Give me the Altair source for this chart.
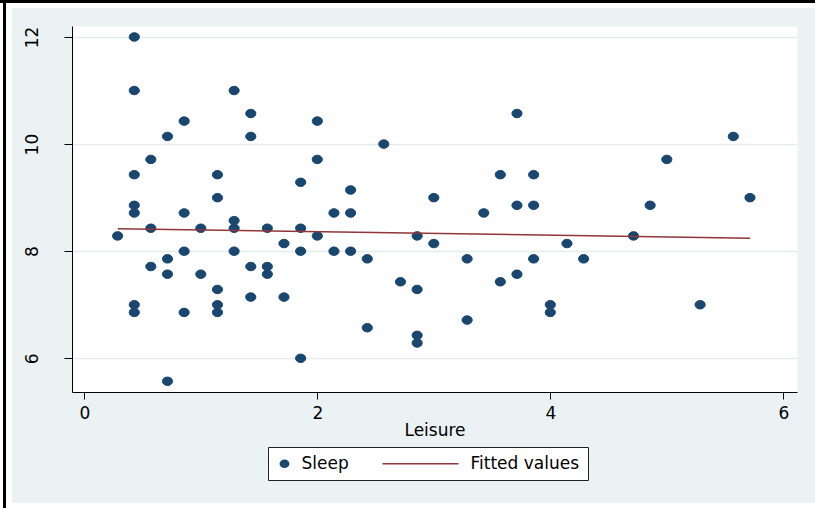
import altair as alt
import pandas as pd

# ---- data (Leisure vs Sleep) ----
leisure = [
    0.286, 0.429, 0.429, 0.429, 0.429, 0.429, 0.571, 0.571, 0.714, 0.857,
    0.857, 0.857, 1.000, 1.143, 1.143, 1.286, 1.286, 1.286, 1.286, 1.429,
    1.429, 1.571, 1.714, 1.857, 1.857, 1.857, 2.000, 2.000, 2.000, 2.143,
    2.143, 2.286, 2.286, 2.286, 2.429, 2.571,
    0.571, 0.714, 0.714, 1.000, 1.143, 1.143, 1.143, 0.429, 0.429, 0.857,
    0.714, 1.429, 1.429, 1.571, 1.571, 1.714, 1.857, 2.429, 2.714,
    2.857, 3.000, 3.000, 3.286, 3.429, 3.571, 3.714, 3.714, 3.857, 3.857,
    3.857, 4.143, 4.286, 4.714, 4.857, 5.000, 5.571, 5.714,
    2.857, 3.571, 3.714, 3.286, 2.857, 2.857, 4.000, 4.000, 5.286,
]
sleep = [
    8.286, 12.000, 11.000, 9.429, 8.857, 8.714, 9.714, 8.429, 10.143, 10.429,
    8.714, 8.000, 8.429, 9.429, 9.000, 11.000, 8.571, 8.429, 8.000, 10.571,
    10.143, 8.429, 8.143, 9.286, 8.429, 8.000, 10.429, 9.714, 8.286, 8.714,
    8.000, 9.143, 8.714, 8.000, 7.857, 10.000,
    7.714, 7.857, 7.571, 7.571, 7.286, 7.000, 6.857, 7.000, 6.857, 6.857,
    5.571, 7.714, 7.143, 7.714, 7.571, 7.143, 6.000, 6.571, 7.429,
    8.286, 9.000, 8.143, 7.857, 8.714, 9.429, 10.571, 8.857, 9.429, 8.857,
    7.857, 8.143, 7.857, 8.286, 8.857, 9.714, 10.143, 9.000,
    7.286, 7.429, 7.571, 6.714, 6.429, 6.286, 7.000, 6.857, 7.000,
]
series_names = ["Sleep", "Fitted values"]
x_ticks = [0, 2, 4, 6]
y_ticks = [6, 8, 10, 12]

NAVY = "#1A476F"
MAROON = "#90353B"
BG = "#EAF2F3"
GRID = "#E4ECEE"
FONT = "DejaVu Sans"

df = pd.DataFrame({"leisure": leisure, "sleep": sleep, "series": series_names[0]})

ELLIPSE = "M-1.2,0A1.2,1,0,1,0,1.2,0A1.2,1,0,1,0,-1.2,0Z"
LINE = "M-20.29,0H1.43"

x_enc = alt.X(
    "leisure:Q",
    scale=alt.Scale(domain=[-0.1056, 6.1176], nice=False, zero=False),
    axis=alt.Axis(values=x_ticks, title="Leisure", grid=False, tickSize=7,
                  labelPadding=6, titleBaseline="top", titleY=30, format="d",
                  labelFlush=False),
)
y_enc = alt.Y(
    "sleep:Q",
    title=None,
    scale=alt.Scale(domain=[5.371, 12.205], nice=False, zero=False),
    axis=alt.Axis(values=y_ticks, grid=True, gridColor=GRID, gridWidth=1.5,
                  tickSize=8, labelAngle=270, labelAlign="center",
                  labelBaseline="bottom", labelPadding=23, format="d",
                  labelOverlap=False),
)

legend_spec = alt.Legend(
    orient="none", legendX=196, legendY=421, direction="horizontal",
    columns=2, columnPadding=30, padding=8, strokeColor="#222222",
    fillColor="white", labelFontSize=17, labelColor="black", labelFont=FONT,
    symbolSize=49, symbolStrokeWidth=1.5, labelOffset=8.5, symbolOpacity=1,
)

points = alt.Chart(df).mark_point(filled=True, size=72, opacity=1, strokeWidth=1).encode(
    x=x_enc,
    y=y_enc,
    fill=alt.Fill("series:N", title=None,
                  scale=alt.Scale(domain=series_names, range=[NAVY, MAROON]),
                  legend=legend_spec),
    stroke=alt.Stroke("series:N", title=None,
                      scale=alt.Scale(domain=series_names, range=[NAVY, MAROON]),
                      legend=legend_spec),
    shape=alt.Shape("series:N", title=None,
                    scale=alt.Scale(domain=series_names, range=[ELLIPSE, LINE]),
                    legend=legend_spec),
)

fit = alt.Chart(df).transform_regression("leisure", "sleep").mark_line(
    color=MAROON, strokeWidth=1.5
).encode(x=x_enc, y=y_enc)

# ---- frame decoration around the graph region (outside the plot area) ----
one = alt.Data(values=[{}])
def band(x1, x2, y1, y2, color):
    return alt.Chart(one).mark_rect(color=color).encode(
        x=alt.value(x1), x2=alt.value(x2), y=alt.value(y1), y2=alt.value(y2)
    )

frame = [
    band(-72, 743, -26, -18, "white"),
    band(-72, -60, -26, 482, "white"),
    band(-72, 743, 477, 482, "white"),
    band(-72, 743, -26, -23, "black"),
    band(-69, -66, -26, 482, "black"),
]

chart = alt.layer(*frame, points, fit).properties(
    width=725,
    height=366,
    padding={"left": 72, "top": 26, "right": 18, "bottom": 116},
    autosize=alt.AutoSizeParams(type="none"),
    background=BG,
).configure(font=FONT).configure_view(
    fill="white", stroke="transparent"
).configure_axis(
    labelFontSize=17, titleFontSize=17, labelColor="black", titleColor="black",
    titleFontWeight="normal", domainColor="black", tickColor="black",
    labelFont=FONT, titleFont=FONT, domainWidth=1, tickWidth=1,
)

chart.save("out.html", embed_options={"renderer": "svg", "actions": False})
